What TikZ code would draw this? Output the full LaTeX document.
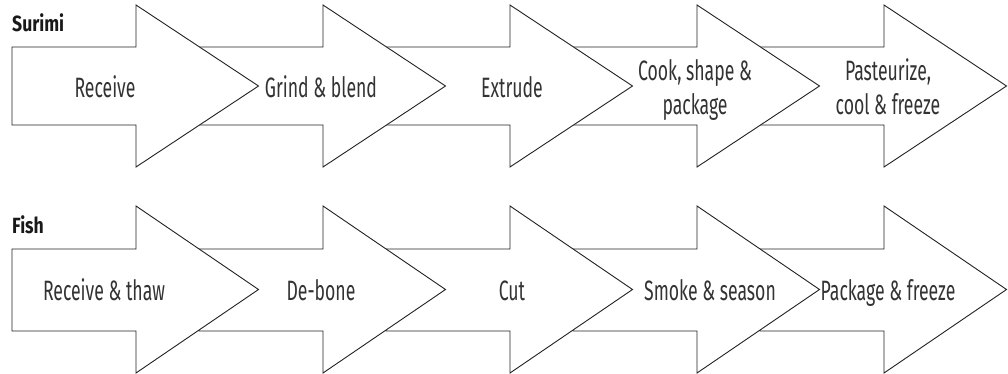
\documentclass[tikz,border=0pt]{standalone}
\usepackage{fontspec}
\setmainfont{Fira Sans}[FakeStretch=0.63, BoldFeatures={FakeStretch=0.8}]
\definecolor{txt}{HTML}{333333}
\definecolor{edge}{HTML}{222222}
\tikzset{
  procarrow/.style={draw=edge, line width=0.9pt, fill=white, line join=miter},
  steplabel/.style={text=txt, font=\fontsize{28}{34}\selectfont, align=center, inner sep=0pt, anchor=base},
  rowlabel/.style={font=\bfseries\fontsize{22}{24}\selectfont, anchor=base west, inner sep=0pt, text=black!90}
}
% #1 x0, #2 shaft top, #3 shaft bottom, #4 head top, #5 head bottom
\newcommand\procshape[5]{%
  \filldraw[procarrow] (#1,#2) -- (#1+124,#2) -- (#1+124,#4) -- (#1+246.5,{(#4+#5)/2})
    -- (#1+124,#5) -- (#1+124,#3) -- (#1,#3) -- cycle;}
\begin{document}
\begin{tikzpicture}[x=1pt,y=-1pt]
\useasboundingbox (0,0) rectangle (1008,374);
% Surimi row (drawn right to left so earlier arrows overlap later ones)
\procshape{760}{47}{125}{5}{167}
\procshape{573}{47}{125}{5}{167}
\procshape{386}{47}{125}{5}{167}
\procshape{199}{47}{125}{5}{167}
\procshape{12}{47}{125}{5}{167}
% Fish row
\procshape{760}{249}{331}{206}{373}
\procshape{573}{249}{331}{206}{373}
\procshape{386}{249}{331}{206}{373}
\procshape{199}{249}{331}{206}{373}
\procshape{12}{249}{331}{206}{373}
% labels
\node[rowlabel] (surimi) at (12,32) {Surimi};
\node[rowlabel] (fish) at (12,233) {Fish};
\node[steplabel] (s1) at (105,98) {Receive};
\node[steplabel] (s2) at (321,98) {Grind \& blend};
\node[steplabel] (s3) at (512,98) {Extrude};
\node[steplabel] (s4) at (695,115) {Cook, shape \&\\package};
\node[steplabel] (s5) at (888,115) {Pasteurize,\\cool \& freeze};
\node[steplabel] (f1) at (104,300) {Receive \& thaw};
\node[steplabel] (f2) at (321,300) {De-bone};
\node[steplabel] (f3) at (512,300) {Cut};
\node[steplabel] (f4) at (710,300) {Smoke \& season};
\node[steplabel] (f5) at (888,300) {Package \& freeze};
\end{tikzpicture}
\end{document}
